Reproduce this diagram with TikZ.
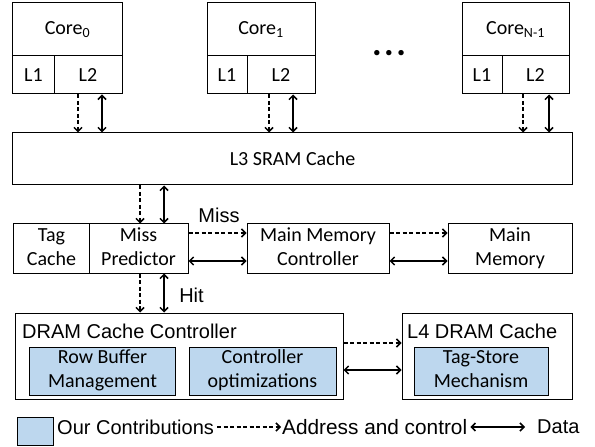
\documentclass[tikz,border=0pt]{standalone}
\usepackage{fontspec}
\setmainfont{Carlito}
\newfontfamily\arialf{Liberation Sans}
\usetikzlibrary{arrows.meta}
\definecolor{contrib}{HTML}{BDD7EE}
\tikzset{
  cal/.style={font=\fontsize{20bp}{24bp}\selectfont},
  ari/.style={font=\arialf\fontsize{20bp}{24bp}\selectfont},
  box/.style={draw, line width=1bp, inner sep=0pt, align=center, cal},
  cbox/.style={box, fill=contrib},
  da/.style={line width=1.5bp, dash pattern=on 4bp off 2.5bp, -{Straight Barb[length=4bp,width=8bp]}},
  sa/.style={line width=1.5bp, {Straight Barb[length=4bp,width=8bp]}-{Straight Barb[length=4bp,width=8bp]}},
}
\begin{document}
\begin{tikzpicture}[x=1bp,y=-1bp]
\useasboundingbox (0,0) rectangle (595,447);
% cores
\node[box, minimum width=109bp, minimum height=53bp] (c0) at (67.5,29.5) {Core\textsubscript{0}};
\node[box, minimum width=41bp, minimum height=38bp] (c0a) at (33.5,75) {L1};
\node[box, minimum width=68bp, minimum height=38bp] (c0b) at (88,75) {L2};
\node[box, minimum width=108bp, minimum height=53bp] (c1) at (261,29.5) {Core\textsubscript{1}};
\node[box, minimum width=40bp, minimum height=38bp] (c1a) at (227,75) {L1};
\node[box, minimum width=68bp, minimum height=38bp] (c1b) at (281,75) {L2};
\node[box, minimum width=107bp, minimum height=53bp] (cn) at (515.5,29.5) {Core\textsubscript{N-1}};
\node[box, minimum width=40bp, minimum height=38bp] (cna) at (482,75) {L1};
\node[box, minimum width=67bp, minimum height=38bp] (cnb) at (535.5,75) {L2};
\node[font=\bfseries\fontsize{36bp}{36bp}\selectfont, inner sep=0pt] (dots) at (389,53) {.\hspace{2.5bp}.\hspace{2.5bp}.};
% L3
\node[box, minimum width=559bp, minimum height=52bp] (l3) at (292.5,159) {L3 SRAM Cache};
% row 3
\node[box, minimum width=75bp, minimum height=49bp] (tc) at (51.5,248.5) {\strut Tag\\\strut Cache};
\node[box, minimum width=99bp, minimum height=49bp] (mp) at (138.5,248.5) {\strut Miss\\\strut Predictor};
\node[box, minimum width=142bp, minimum height=49bp] (mmc) at (318,248.5) {\strut Main Memory\\\strut Controller};
\node[box, minimum width=124bp, minimum height=49bp] (mm) at (510,248.5) {\strut Main\\\strut Memory};
% row 4
\node[box, minimum width=327bp, minimum height=86bp] (dcc) at (179.5,356) {};
\node[ari, anchor=base west, inner sep=0pt] (dcct) at (22,338) {DRAM Cache Controller};
\node[cbox, minimum width=145bp, minimum height=48bp] (rbm) at (102.5,371) {\strut Row Buffer\\\strut Management};
\node[cbox, minimum width=147bp, minimum height=48bp] (co) at (262.5,371) {\strut Controller\\\strut optimizations};
\node[box, minimum width=170bp, minimum height=86bp] (l4) at (487,356) {};
\node[ari, anchor=base west, inner sep=0pt] (l4t) at (407,338) {L4 DRAM Cache};
\node[cbox, minimum width=134bp, minimum height=48bp] (tsm) at (481,371) {\strut Tag-Store\\\strut Mechanism};
% arrows cores -> L3
\draw[da] ([xshift=-10bp]c0b.south) -- ([xshift=-10bp]c0b.south |- l3.north);
\draw[sa] ([xshift=14bp]c0b.south) -- ([xshift=14bp]c0b.south |- l3.north);
\draw[da] ([xshift=-12bp]c1b.south) -- ([xshift=-12bp]c1b.south |- l3.north);
\draw[sa] ([xshift=12bp]c1b.south) -- ([xshift=12bp]c1b.south |- l3.north);
\draw[da] ([xshift=-12.5bp]cnb.south) -- ([xshift=-12.5bp]cnb.south |- l3.north);
\draw[sa] ([xshift=13.5bp]cnb.south) -- ([xshift=13.5bp]cnb.south |- l3.north);
% L3 <-> MP
\draw[da] ([xshift=1.5bp]mp.north |- l3.south) -- ([xshift=1.5bp]mp.north);
\draw[sa] ([xshift=25.5bp]mp.north |- l3.south) -- ([xshift=25.5bp]mp.north);
% MP <-> DCC
\draw[da] ([xshift=1.5bp]mp.south) -- ([xshift=1.5bp]mp.south |- dcc.north);
\draw[sa] ([xshift=25.5bp]mp.south) -- ([xshift=25.5bp]mp.south |- dcc.north);
\node[ari, inner sep=0pt] (hit) at (191.5,295) {Hit};
% MP -> MMC
\draw[da] ([yshift=15.5bp]mp.east) -- ([yshift=15.5bp]mmc.west);
\draw[sa] ([yshift=-12.5bp]mp.east) -- ([yshift=-12.5bp]mmc.west);
\node[ari, inner sep=0pt] (miss) at (219,215) {Miss};
% MMC -> MM
\draw[da] ([yshift=15.5bp]mmc.east) -- ([yshift=15.5bp]mm.west);
\draw[sa] ([yshift=-12.5bp]mmc.east) -- ([yshift=-12.5bp]mm.west);
% DCC -> L4
\draw[da] ([yshift=13bp]dcc.east) -- ([yshift=13bp]l4.west);
\draw[sa] ([yshift=-14bp]dcc.east) -- ([yshift=-14bp]l4.west);
% legend
\node[cbox, minimum width=36bp, minimum height=28bp] (leg) at (35,431) {};
\node[ari, anchor=west, inner sep=0pt] (legt) at (57,427) {Our Contributions};
\node[ari, anchor=west, inner sep=0pt, font=\arialf\fontsize{20.8bp}{24bp}\selectfont] (adr) at (282,427) {Address and control};
\node[ari, anchor=west, inner sep=0pt] (dat) at (537,427) {Data};
\draw[da] ([xshift=3bp]legt.east) -- ([xshift=-1bp]adr.west);
\draw[sa] ([xshift=3bp]adr.east) -- ([xshift=-12bp]dat.west);
\end{tikzpicture}
\end{document}
